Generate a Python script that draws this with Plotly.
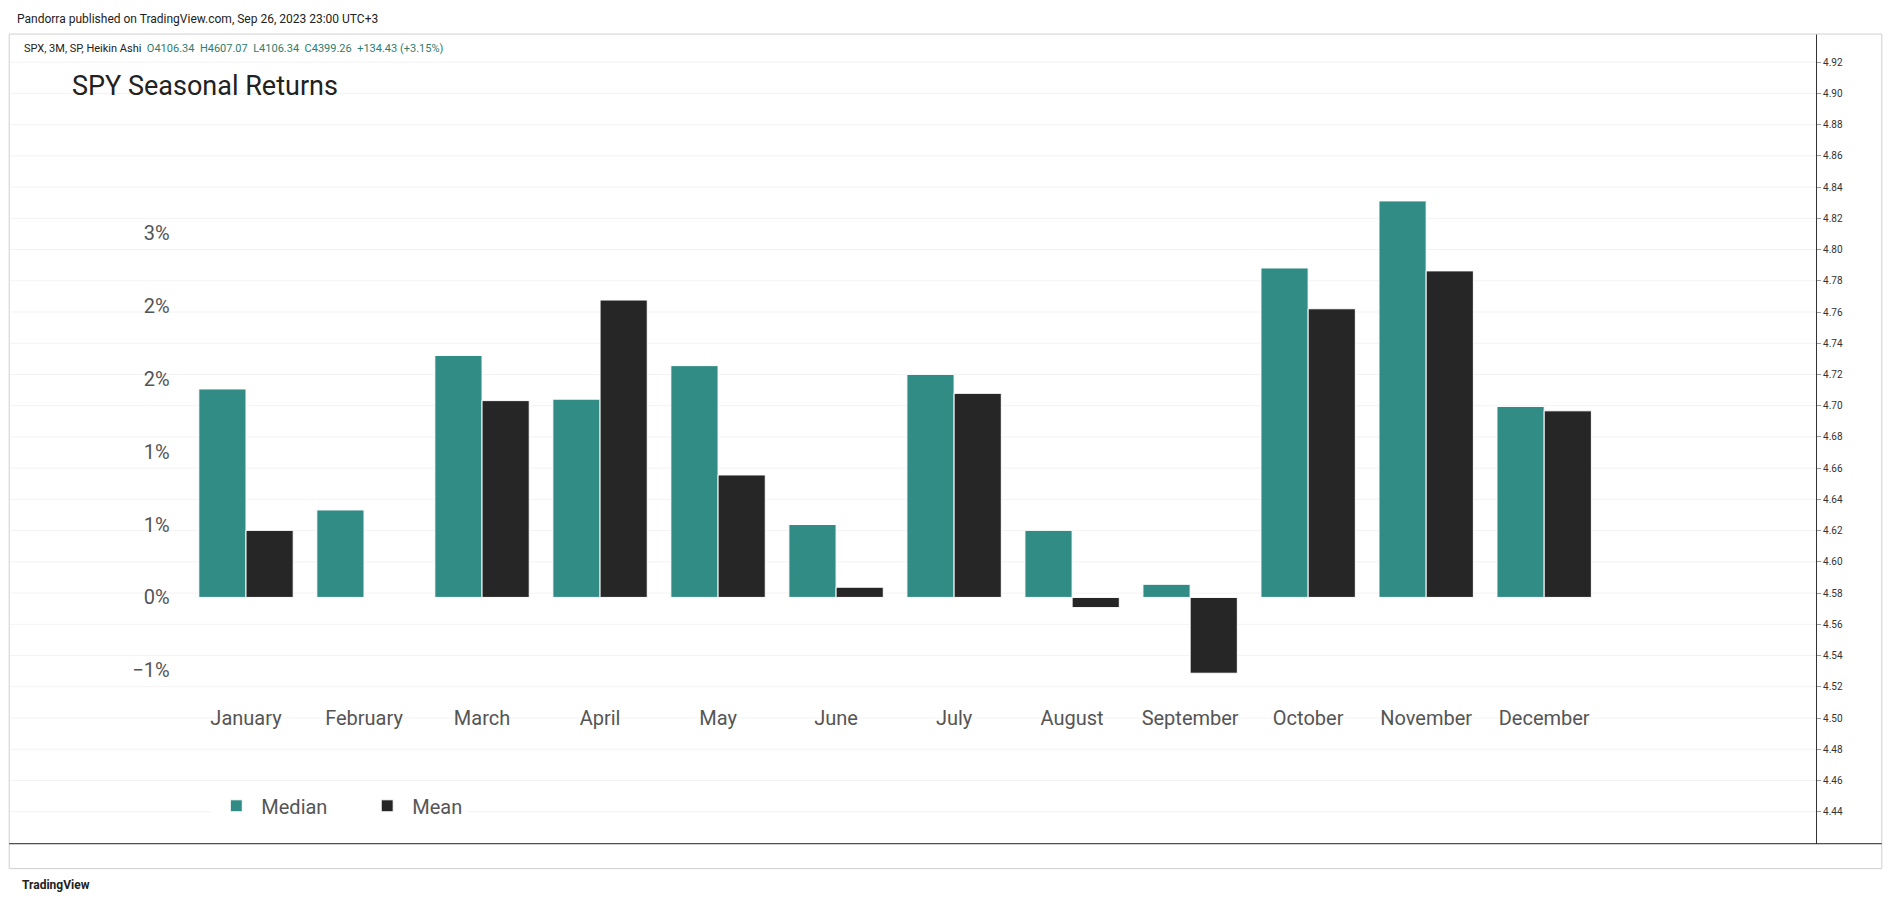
import plotly.graph_objects as go

months = ["January","February","March","April","May","June","July","August","September","October","November","December"]
median = [1.43,0.60,1.66,1.36,1.59,0.50,1.53,0.46,0.09,2.26,2.72,1.31]
mean = [0.46,0.0,1.35,2.04,0.84,0.07,1.40,-0.07,-0.52,1.98,2.24,1.28]
ytick_vals = [-0.5,0,0.5,1.0,1.5,2.0,2.5]
ytick_text = ["\u22121%","0%","1%","1%","2%","2%","3%"]
price_ticks = [4.44,4.46,4.48,4.50,4.52,4.54,4.56,4.58,4.60,4.62,4.64,4.66,4.68,4.70,4.72,4.74,4.76,4.78,4.80,4.82,4.84,4.86,4.88,4.90,4.92]

H = 755.0
W = 1568.0
def fy(p): return 1 - p / H
def fx(p): return p / W

fig = go.Figure()
fig.add_bar(x=months, y=median, name="Median", marker=dict(color="#318c85", line=dict(color="white", width=1)))
fig.add_bar(x=months, y=mean, name="Mean", marker=dict(color="#262626", line=dict(color="white", width=1)))
fig.add_scatter(x=[months[0]], y=[4.6], yaxis="y2", mode="markers", marker=dict(opacity=0), showlegend=False, hoverinfo="skip")

grid_shapes = []
for p in price_ticks:
    grid_shapes.append(dict(type="line", xref="paper", yref="y2", x0=fx(2), x1=fx(1512), y0=p, y1=p,
                            line=dict(color="#f3f3f3", width=1), layer="below"))

fig.update_layout(
    paper_bgcolor="white", plot_bgcolor="rgba(0,0,0,0)",
    margin=dict(l=0, r=0, t=0, b=0),
    barmode="group", bargap=0.2, bargroupgap=0,
    font=dict(family="Roboto, DejaVu Sans", color="#555"),
    xaxis=dict(domain=[fx(136), fx(1334)], showgrid=False, showline=False, ticks="",
               tickfont=dict(size=20, color="#555"), ticklabelstandoff=19),
    yaxis=dict(domain=[fy(571), fy(116)], range=[-0.6, 3.1], tickvals=ytick_vals, ticktext=ytick_text,
               showgrid=False, zeroline=False, tickfont=dict(size=20, color="#555"), ticks="",
               ticklabelstandoff=0),
    yaxis2=dict(domain=[fy(705), fy(22)], range=[4.4195, 4.938], anchor="free", overlaying=None,
                position=fx(1512), side="right", tickvals=price_ticks, ticktext=[f"{v:.2f}" for v in price_ticks],
                tickfont=dict(size=10, color="#333"), showgrid=False, zeroline=False, ticks="outside",
                ticklen=4, tickcolor="#999", showline=True, linecolor="#333"),
    legend=dict(orientation="h", x=fx(170), y=fy(673), yanchor="middle", font=dict(size=20, color="#555"),
                itemwidth=40),
    shapes=grid_shapes + [
        dict(type="rect", xref="paper", yref="paper", x0=fx(1), x1=fx(1567), y0=fy(726), y1=fy(22),
             line=dict(color="#d0d0d0", width=1), fillcolor="rgba(0,0,0,0)"),
        dict(type="line", xref="paper", yref="paper", x0=fx(1), x1=fx(1567), y0=fy(705), y1=fy(705),
             line=dict(color="#222", width=1)),
    ],
    annotations=[
        dict(text="SPY Seasonal Returns", xref="paper", yref="paper", x=fx(52), y=fy(66), xanchor="left",
             yanchor="middle", showarrow=False, font=dict(size=27, color="#222")),
        dict(text="Pandorra published on TradingView.com, Sep 26, 2023 23:00 UTC+3", xref="paper", yref="paper",
             x=fx(6), y=fy(9), xanchor="left", yanchor="middle", showarrow=False, font=dict(size=12, color="#222")),
        dict(text="SPX, 3M, SP, Heikin Ashi  <span style='color:#2e7d6f'>O4106.34  H4607.07  L4106.34  C4399.26  +134.43 (+3.15%)</span>",
             xref="paper", yref="paper", x=fx(12), y=fy(34), xanchor="left", yanchor="middle", showarrow=False,
             font=dict(size=11, color="#222")),
        dict(text="<b>TradingView</b>", xref="paper", yref="paper", x=fx(10), y=fy(740), xanchor="left",
             yanchor="middle", showarrow=False, font=dict(size=12, color="#222")),
    ],
)
fig.data[0].name = "Median      "
fig.write_html("out.html")
